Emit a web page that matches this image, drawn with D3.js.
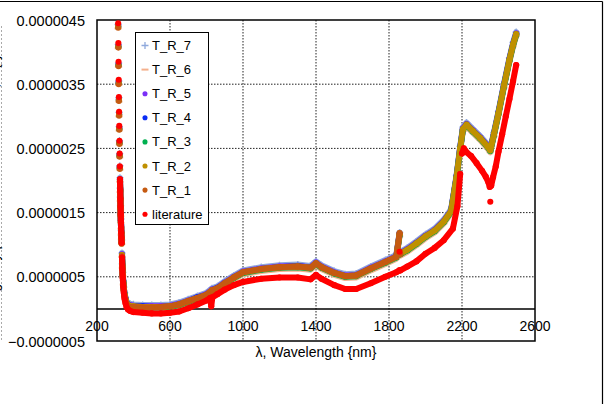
<!DOCTYPE html>
<html lang="en">
<head>
<meta charset="utf-8">
<title>k spectra</title>
<script src="https://d3js.org/d3.v7.min.js"></script>
<style>
body{margin:0;background:#fff;}
text{font-family:"Liberation Sans",Arial,sans-serif;fill:#000;}
</style>
</head>
<body>
<script type="text/javascript">
var w = 606;
var h = 404;

// all values below are in units of 1e-6
var trWave = [316,317,318,319,320,321,322,323,324,325,326,327,328,329,330,331,332,333,334,335,
  337,339,341,344,347,351,356,362,370,380,
  400,450,500,550,600,650,700,750,800,830,860,900,950,1000,1100,1200,1300,1370,1400,1430,
  1500,1560,1620,1700,1780,1840,1858,1862,1900,1950,2000,2050,2100,2140,2170,2190,2205,2225,
  2260,2300,2340,2355,2375,2400,2430,2460,2480,2497];

var T_R_7 = [4.43,4.12,3.83,3.55,3.29,3.06,2.84,2.62,2.42,2.23,2.04,1.88,1.74,1.61,1.50,1.40,1.31,1.22,1.14,1.07,
  0.87,0.70,0.57,0.44,0.34,0.25,0.18,0.12,0.09,0.08,
  0.07,0.06,0.06,0.06,0.07,0.10,0.15,0.20,0.25,0.32,0.35,0.43,0.52,0.60,0.65,0.68,0.69,0.67,0.74,0.68,
  0.59,0.54,0.55,0.66,0.76,0.84,1.19,0.89,0.95,1.05,1.16,1.25,1.39,1.55,2.08,2.53,2.83,2.90,
  2.80,2.69,2.56,2.50,2.75,3.08,3.51,3.91,4.15,4.31];

var T_R_6 = [4.37,4.06,3.77,3.49,3.23,3.00,2.78,2.56,2.36,2.17,1.98,1.82,1.68,1.55,1.44,1.34,1.25,1.16,1.08,1.01,
  0.81,0.64,0.51,0.38,0.28,0.19,0.12,0.06,0.03,0.02,
  0.01,0.00,0.00,0.00,0.01,0.04,0.09,0.14,0.19,0.26,0.29,0.37,0.46,0.54,0.59,0.62,0.63,0.61,0.68,0.62,
  0.53,0.48,0.49,0.60,0.70,0.78,1.13,0.83,0.89,0.99,1.10,1.19,1.33,1.49,2.02,2.47,2.77,2.84,
  2.74,2.63,2.50,2.44,2.69,3.02,3.45,3.85,4.09,4.25];

var T_R_5 = [4.41,4.10,3.81,3.53,3.27,3.04,2.82,2.60,2.40,2.21,2.02,1.86,1.72,1.59,1.48,1.38,1.29,1.20,1.12,1.05,
  0.85,0.68,0.55,0.42,0.32,0.23,0.16,0.10,0.07,0.06,
  0.05,0.04,0.04,0.04,0.05,0.08,0.13,0.18,0.23,0.30,0.33,0.41,0.50,0.58,0.63,0.66,0.67,0.65,0.72,0.66,
  0.57,0.52,0.53,0.64,0.74,0.82,1.17,0.87,0.93,1.03,1.14,1.23,1.37,1.53,2.06,2.51,2.81,2.88,
  2.78,2.67,2.54,2.48,2.73,3.06,3.49,3.89,4.13,4.29];

var T_R_4 = [4.40,4.09,3.80,3.52,3.26,3.03,2.81,2.59,2.39,2.20,2.01,1.85,1.71,1.58,1.47,1.37,1.28,1.19,1.11,1.04,
  0.84,0.67,0.54,0.41,0.31,0.22,0.15,0.09,0.06,0.05,
  0.04,0.04,0.03,0.03,0.04,0.07,0.12,0.18,0.22,0.29,0.33,0.40,0.49,0.57,0.62,0.65,0.67,0.64,0.71,0.65,
  0.56,0.51,0.52,0.63,0.73,0.81,1.16,0.86,0.92,1.02,1.13,1.22,1.36,1.52,2.05,2.50,2.80,2.87,
  2.77,2.66,2.53,2.47,2.72,3.05,3.48,3.88,4.12,4.28];

var T_R_3 = [4.39,4.08,3.79,3.51,3.25,3.02,2.80,2.58,2.38,2.19,2.00,1.84,1.70,1.57,1.46,1.36,1.27,1.18,1.10,1.03,
  0.83,0.66,0.53,0.40,0.30,0.21,0.14,0.08,0.05,0.04,
  0.03,0.02,0.02,0.02,0.03,0.06,0.11,0.16,0.21,0.28,0.31,0.39,0.48,0.56,0.61,0.64,0.65,0.63,0.70,0.64,
  0.55,0.50,0.51,0.62,0.72,0.80,1.15,0.85,0.91,1.01,1.12,1.21,1.35,1.51,2.04,2.49,2.79,2.86,
  2.76,2.65,2.52,2.46,2.71,3.04,3.47,3.87,4.11,4.27];

var T_R_2 = [4.40,4.09,3.80,3.52,3.26,3.03,2.81,2.59,2.39,2.20,2.01,1.85,1.71,1.58,1.47,1.37,1.28,1.19,1.11,1.04,
  0.84,0.67,0.54,0.41,0.31,0.22,0.15,0.09,0.06,0.05,
  0.04,0.03,0.03,0.03,0.04,0.07,0.12,0.17,0.22,0.29,0.32,0.40,0.49,0.57,0.62,0.65,0.66,0.64,0.71,0.65,
  0.56,0.51,0.52,0.63,0.73,0.81,1.16,0.86,0.92,1.02,1.13,1.22,1.36,1.52,2.05,2.50,2.80,2.87,
  2.77,2.66,2.53,2.47,2.72,3.05,3.48,3.88,4.12,4.28];

// T_R_1 stops at the detector change near 1860 nm
var T_R_1 = [4.38,4.07,3.78,3.50,3.24,3.01,2.79,2.57,2.37,2.18,1.99,1.83,1.69,1.56,1.45,1.35,1.26,1.17,1.09,1.02,
  0.82,0.65,0.52,0.39,0.29,0.20,0.13,0.07,0.04,0.03,
  0.03,0.02,0.02,0.03,0.04,0.07,0.12,0.17,0.22,0.29,0.32,0.40,0.49,0.57,0.62,0.65,0.66,0.64,0.71,0.65,
  0.56,0.51,0.52,0.63,0.73,0.81,1.18,0.85];

var litWave = [316,317,318,319,320,321,322,323,324,325,326,327,328,329,330,331,332,333,334,335,
  337,339,341,344,347,351,356,362,370,380,
  400,450,500,550,600,650,700,750,800,820,826,832,860,900,950,1000,1100,1200,1300,1370,1400,1430,
  1500,1560,1620,1700,1780,1840,1856,1858,1862,1900,1950,2000,2050,2100,2150,2175,2190,
  2200,2210,2225,2250,2280,2310,2330,2345,2352,2355,2360,2370,2385,2400,2420,2440,2460,2480,2497];

var literature = [4.45,4.14,3.85,3.57,3.30,3.07,2.85,2.62,2.42,2.22,2.02,1.86,1.72,1.59,1.48,1.38,1.28,1.19,1.11,1.03,
  0.80,0.62,0.48,0.35,0.25,0.16,0.09,0.03,-0.01,-0.03,
  -0.05,-0.06,-0.07,-0.07,-0.06,-0.04,0.01,0.07,0.13,0.17,0.04,0.18,0.23,0.30,0.37,0.42,0.47,0.49,0.49,0.46,0.53,0.47,
  0.37,0.31,0.31,0.40,0.50,0.57,0.60,0.89,0.60,0.66,0.74,0.86,0.95,1.07,1.25,1.60,2.10,
  2.42,2.50,2.44,2.38,2.27,2.15,2.06,1.97,1.90,1.67,1.92,2.05,2.22,2.45,2.72,3.00,3.27,3.55,3.80];

var xTicks = [200,600,1000,1400,1800,2200,2600];
var yTicks = [-0.5,0.5,1.5,2.5,3.5,4.5];

var series = [
  {name:"T_R_7", wave:trWave, vals:T_R_7, color:"#8fa9dc", marker:"plus"},
  {name:"T_R_6", wave:trWave, vals:T_R_6, color:"#f4b08c", marker:"dash"},
  {name:"T_R_5", wave:trWave, vals:T_R_5, color:"#7b2ff7", marker:"dot"},
  {name:"T_R_4", wave:trWave, vals:T_R_4, color:"#0a2cf5", marker:"dot"},
  {name:"T_R_3", wave:trWave, vals:T_R_3, color:"#00b050", marker:"dot"},
  {name:"T_R_2", wave:trWave, vals:T_R_2, color:"#bf9000", marker:"dot"},
  {name:"T_R_1", wave:trWave, vals:T_R_1, color:"#c55a11", marker:"dot"},
  {name:"literature", wave:litWave, vals:literature, color:"#ff0000", marker:"dot"}
];

var xScale = d3.scaleLinear().domain([200,2600]).range([97,535]);
var yScale = d3.scaleLinear().domain([-0.5,4.5]).range([341,20]);
var fmtY = d3.format(".7f");

var svg = d3.select("body").append("svg")
  .attr("width", w)
  .attr("height", h);

// outer frame pieces
svg.append("line").attr("x1",0).attr("x2",602.5).attr("y1",1.5).attr("y2",1.5)
  .attr("stroke","#000").attr("stroke-width",1.2);
svg.append("line").attr("x1",602.5).attr("x2",602.5).attr("y1",1.5).attr("y2",h)
  .attr("stroke","#000").attr("stroke-width",1.2);
svg.append("line").attr("x1",1.5).attr("x2",1.5).attr("y1",26).attr("y2",340)
  .attr("stroke","#aaa").attr("stroke-dasharray","2,2");
svg.append("text")
  .attr("transform","translate(-1,185) rotate(-90)")
  .attr("text-anchor","middle")
  .attr("font-size","14px")
  .text("Imaginary part of the refractive index, k {-}");

// grid
svg.append("g").selectAll("line")
  .data(yTicks.filter(function(d){ return d > -0.5 && d < 4.5; }))
  .enter().append("line")
  .attr("x1",97).attr("x2",535)
  .attr("y1",function(d){ return yScale(d); })
  .attr("y2",function(d){ return yScale(d); })
  .attr("stroke","#222").attr("stroke-dasharray","1.5,1.5");
svg.append("g").selectAll("line")
  .data(xTicks.filter(function(d){ return d > 200 && d < 2600; }))
  .enter().append("line")
  .attr("x1",function(d){ return xScale(d); })
  .attr("x2",function(d){ return xScale(d); })
  .attr("y1",20).attr("y2",341)
  .attr("stroke","#222").attr("stroke-dasharray","1.5,1.5");

// plot box and zero line
svg.append("rect").attr("x",97).attr("y",20).attr("width",438).attr("height",321)
  .attr("fill","none").attr("stroke","#000").attr("stroke-width",1.5);
svg.append("line").attr("x1",97).attr("x2",535)
  .attr("y1",yScale(0)).attr("y2",yScale(0))
  .attr("stroke","#000").attr("stroke-width",1.5);

// data
var line = d3.line().x(function(d){ return d[0]; }).y(function(d){ return d[1]; });

function runs(s){
  var pts = s.vals.map(function(v,i){ return [xScale(s.wave[i]), yScale(v)]; });
  var out = [], cur = [pts[0]];
  for (var i = 1; i < pts.length; i++) {
    var dx = pts[i][0]-pts[i-1][0], dy = pts[i][1]-pts[i-1][1];
    if (Math.abs(dy) > 12 && Math.abs(dx) < 2) { out.push(cur); cur = [pts[i]]; }
    else cur.push(pts[i]);
  }
  out.push(cur);
  return {runs: out, pts: pts};
}

function drawMarker(g, type, color, x, y, r){
  if (type == "plus") {
    g.append("path").attr("d","M"+(x-r)+","+y+"H"+(x+r)+"M"+x+","+(y-r)+"V"+(y+r))
      .attr("stroke",color).attr("stroke-width",1.3).attr("fill","none");
  } else if (type == "dash") {
    g.append("path").attr("d","M"+(x-r)+","+y+"H"+(x+r))
      .attr("stroke",color).attr("stroke-width",2).attr("fill","none");
  } else {
    g.append("circle").attr("cx",x).attr("cy",y).attr("r",r*0.85).attr("fill",color);
  }
}

series.forEach(function(s){
  var g = svg.append("g");
  var r = runs(s);
  r.runs.forEach(function(run){
    if (run.length < 2) return;
    g.append("path").attr("d",line(run))
      .attr("fill","none").attr("stroke",s.color)
      .attr("stroke-width",6)
      .attr("stroke-linejoin","round").attr("stroke-linecap","round");
  });
  r.pts.forEach(function(p){ drawMarker(g, s.marker, s.color, p[0], p[1], 3.6); });
});

// tick labels
svg.append("g").selectAll("text")
  .data(yTicks).enter().append("text")
  .attr("x",85)
  .attr("y",function(d){ return yScale(d)+5.5; })
  .attr("text-anchor","end")
  .attr("font-size","14.5px")
  .text(function(d){ return fmtY(d/1e6); });

svg.append("g").selectAll("text")
  .data(xTicks).enter().append("text")
  .attr("x",function(d){ return xScale(d); })
  .attr("y",331)
  .attr("text-anchor","middle")
  .attr("font-size","14px")
  .text(function(d){ return d; });

svg.append("text")
  .attr("x",316).attr("y",357)
  .attr("text-anchor","middle")
  .attr("font-size","14px")
  .text("λ, Wavelength {nm}");

// legend
var leg = svg.append("g");
leg.append("rect").attr("x",135.5).attr("y",32.5).attr("width",73).attr("height",192)
  .attr("fill","#fff").attr("stroke","#000").attr("stroke-width",1);
series.forEach(function(s,i){
  var yb = 50 + i*24.1;
  drawMarker(leg, s.marker, s.color, 145, yb-4.5, s.marker == "dot" ? 3 : 3.5);
  leg.append("text").attr("x",152).attr("y",yb)
    .attr("font-size","13px").text(s.name);
});
</script>
</body>
</html>
